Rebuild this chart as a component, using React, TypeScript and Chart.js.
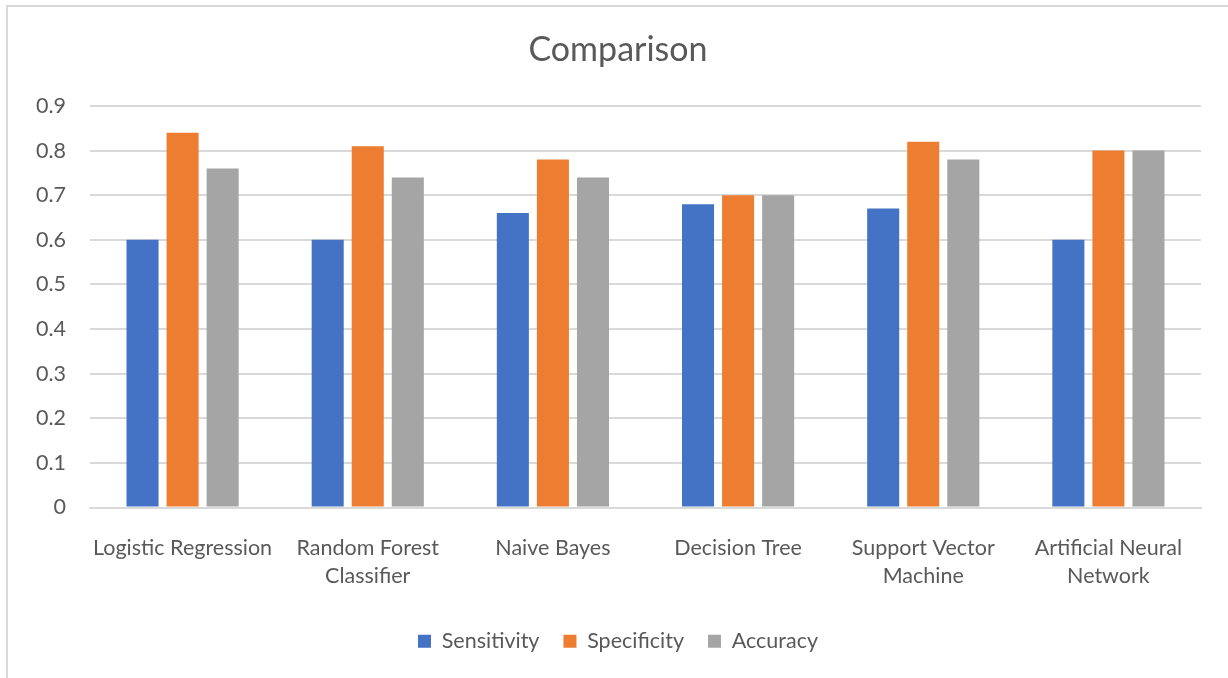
import React, { useEffect, useRef } from "react";
import { Chart, registerables } from "chart.js";

Chart.register(...registerables);

const categories: (string | string[])[] = [
  "Logistic Regression",
  ["Random Forest", "Classifier"],
  "Naive Bayes",
  "Decision Tree",
  ["Support Vector", "Machine"],
  ["Artificial Neural", "Network"],
];

const sensitivity = [0.6, 0.6, 0.66, 0.68, 0.67, 0.6];
const specificity = [0.84, 0.81, 0.78, 0.7, 0.82, 0.8];
const accuracy = [0.76, 0.74, 0.74, 0.7, 0.78, 0.8];

const FONT = "Lato, 'Open Sans', sans-serif";
const TEXT = "#595959";
const GRID = "#D9D9D9";

export default function App() {
  const canvasRef = useRef<HTMLCanvasElement | null>(null);

  useEffect(() => {
    if (!canvasRef.current) return;
    const chart = new Chart(canvasRef.current, {
      type: "bar",
      data: {
        labels: categories,
        datasets: [
          { label: "Sensitivity", data: sensitivity, backgroundColor: "#4472C4" },
          { label: "Specificity", data: specificity, backgroundColor: "#ED7D31" },
          { label: "Accuracy", data: accuracy, backgroundColor: "#A5A5A5" },
        ],
      },
      options: {
        animation: false,
        responsive: false,
        maintainAspectRatio: false,
        datasets: {
          bar: { categoryPercentage: 0.649, barPercentage: 0.8 },
        },
        layout: { padding: { left: 35, right: 27, top: 0, bottom: 16 } },
        plugins: {
          title: {
            display: true,
            text: "Comparison",
            color: TEXT,
            font: { family: FONT, size: 34, weight: "normal", lineHeight: 1.2 },
            padding: { top: 29.6, bottom: 35.6 },
          },
          legend: {
            position: "bottom",
            labels: {
              color: TEXT,
              font: { family: FONT, size: 21.5 },
              boxWidth: 13,
              boxHeight: 13,
              padding: 24,
            },
          },
          tooltip: { enabled: false },
        },
        scales: {
          x: {
            grid: { display: false },
            border: { display: true, color: GRID, width: 2 },
            ticks: {
              color: TEXT,
              font: { family: FONT, size: 21.5, lineHeight: 1.3 },
              maxRotation: 0,
              autoSkip: false,
              padding: 19,
            },
            afterFit: (scale: any) => {
              scale.height = 99;
            },
          },
          y: {
            min: 0,
            max: 0.9,
            grid: { color: GRID, lineWidth: 2, drawTicks: false },
            border: { display: false },
            ticks: {
              stepSize: 0.1,
              color: TEXT,
              font: { family: FONT, size: 21.5 },
              padding: 24,
              callback: (v: any) => String(Math.round(Number(v) * 10) / 10),
            },
            afterFit: (scale: any) => {
              scale.width = 55;
            },
          },
        },
      },
    });
    return () => chart.destroy();
  }, []);

  return (
    <div
      style={{
        position: "fixed",
        left: 0,
        top: 0,
        width: 1228,
        height: 678,
        overflow: "hidden",
        background: "#fff",
      }}
    >
      <div
        style={{
          position: "absolute",
          left: 6,
          top: 5,
          width: 1240,
          height: 700,
          border: "2px solid #D9D9D9",
        }}
      />
      <canvas
        ref={canvasRef}
        width={1228}
        height={678}
        style={{ position: "absolute", left: 0, top: 0 }}
      />
    </div>
  );
}
